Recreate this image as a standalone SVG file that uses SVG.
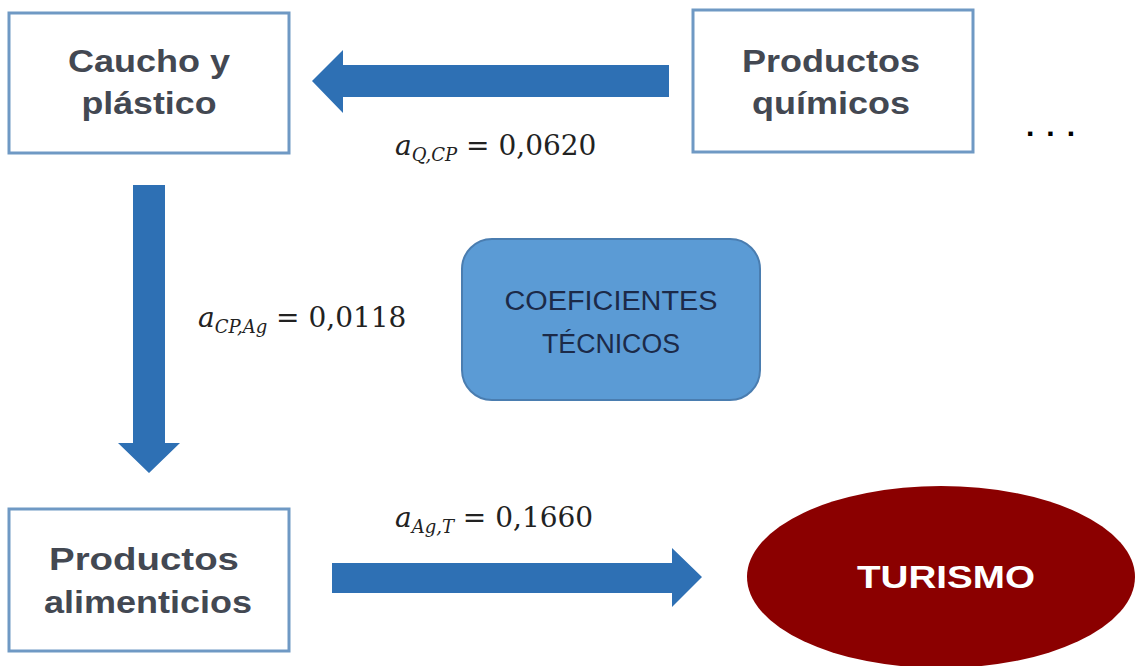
<svg xmlns="http://www.w3.org/2000/svg" width="1135" height="666" viewBox="0 0 1135 666">
<style>
.box{fill:#ffffff;stroke:#6f99c4;stroke-width:3}
.bt{font-family:"Liberation Sans",Arial,sans-serif;font-weight:bold;font-size:31px;fill:#434852;text-anchor:middle}
.arr{fill:#2e70b4}
.math{font-family:"DejaVu Serif","Liberation Serif",serif;font-size:28px;fill:#222222}
.it{font-style:italic}
.sub{font-style:italic;font-size:18px}
.coef{font-family:"Liberation Sans",Arial,sans-serif;font-size:27px;fill:#1c2a48;text-anchor:middle}
</style>
<rect width="1135" height="666" fill="#ffffff"/>
<g id="connectors">
<polygon class="arr" points="669,65 343,65 343,50 312,81 343,113 343,97 669,97"/>
<polygon class="arr" points="133,185 165,185 165,443 180,443 149,473 118,443 133,443"/>
<polygon class="arr" points="332,563 672,563 672,548 702,577 672,607 672,593 332,593"/>
<text class="math" x="395" y="155"><tspan class="it">a</tspan><tspan class="sub" dy="6">Q,CP</tspan><tspan dy="-6"> = 0,0620</tspan></text>
<text class="math" x="198" y="327"><tspan class="it">a</tspan><tspan class="sub" dy="6">CP,Ag</tspan><tspan dy="-6"> = 0,0118</tspan></text>
<text class="math" x="395" y="527"><tspan class="it">a</tspan><tspan class="sub" dy="6">Ag,T</tspan><tspan dy="-6"> = 0,1660</tspan></text>
</g>
<g id="caucho">
<rect class="box" x="9" y="13" width="280" height="140"/>
<text class="bt" x="149" y="72" textLength="162" lengthAdjust="spacingAndGlyphs">Caucho y</text>
<text class="bt" x="149" y="114" textLength="135" lengthAdjust="spacingAndGlyphs">plástico</text>
</g>
<g id="quimicos">
<rect class="box" x="693" y="10" width="280" height="142"/>
<text class="bt" x="831" y="72" textLength="178" lengthAdjust="spacingAndGlyphs">Productos</text>
<text class="bt" x="831" y="114" textLength="158" lengthAdjust="spacingAndGlyphs">químicos</text>
</g>
<g id="dots">
<text x="1026" y="136" font-family="'Liberation Sans',Arial,sans-serif" font-weight="bold" font-size="30" fill="#000000" letter-spacing="12">...</text>
</g>
<g id="coeficientes">
<rect x="462" y="239" width="298" height="161" rx="30" ry="30" fill="#5b9bd5" stroke="#4a7db0" stroke-width="2"/>
<text class="coef" x="611" y="310" textLength="213" lengthAdjust="spacingAndGlyphs">COEFICIENTES</text>
<text class="coef" x="611" y="353" textLength="138" lengthAdjust="spacingAndGlyphs">TÉCNICOS</text>
</g>
<g id="alimenticios">
<rect class="box" x="9" y="509" width="280" height="142"/>
<text class="bt" x="144" y="570" textLength="190" lengthAdjust="spacingAndGlyphs">Productos</text>
<text class="bt" x="148" y="613" textLength="208" lengthAdjust="spacingAndGlyphs">alimenticios</text>
</g>
<g id="turismo">
<ellipse cx="941" cy="577" rx="194" ry="91" fill="#8b0000"/>
<text x="946" y="588" font-family="'Liberation Sans',Arial,sans-serif" font-weight="bold" font-size="31" fill="#ffffff" text-anchor="middle" textLength="178" lengthAdjust="spacingAndGlyphs">TURISMO</text>
</g>
</svg>
